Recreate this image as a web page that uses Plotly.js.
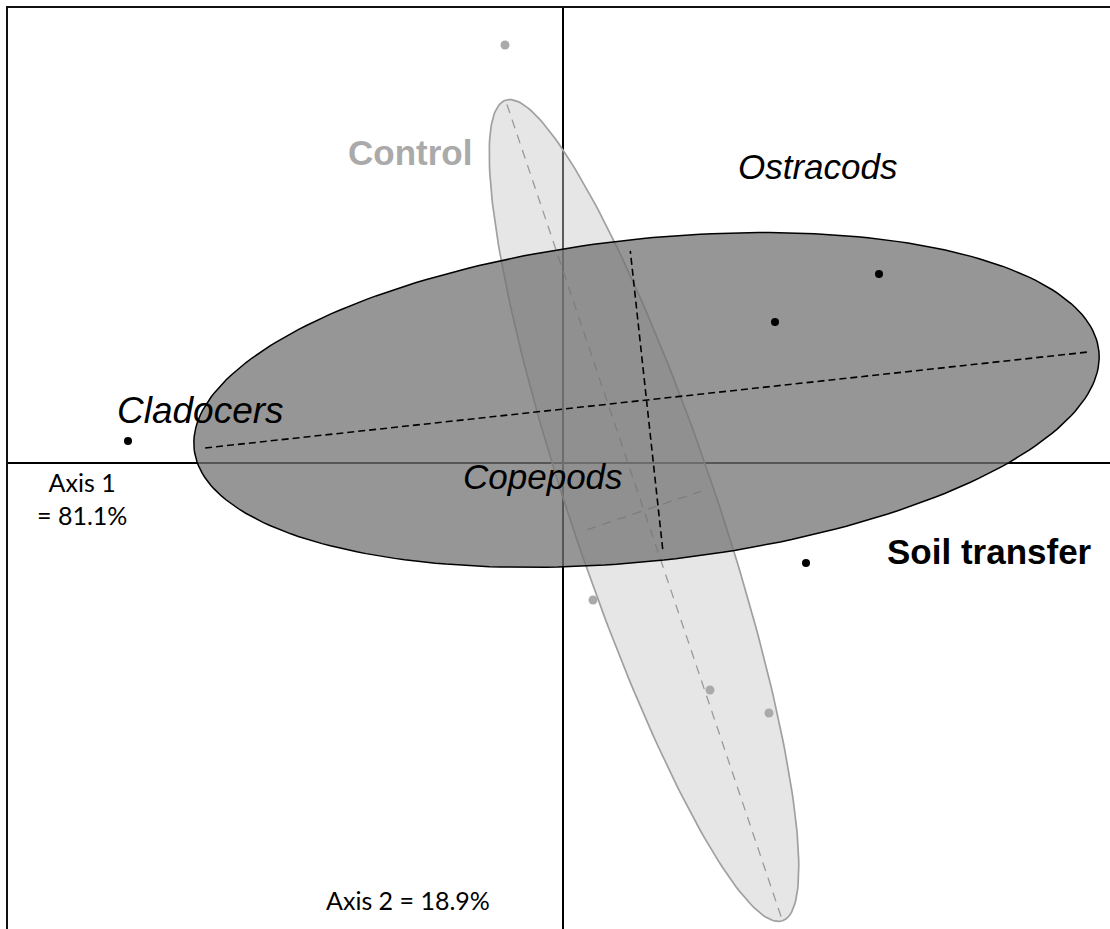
<!DOCTYPE html>
<html><head><meta charset="utf-8">
<script src="https://cdn.plot.ly/plotly-3.0.1.min.js"></script>
<style>html,body{margin:0;padding:0;background:#fff}#chart{width:1110px;height:929px}</style>
</head><body><div id="chart"></div>
<script>
// Site scores (correspondence analysis), two treatments
const controlX = [-0.58, 0.30, 1.47, 2.06];
const controlY = [4.18, -1.37, -2.27, -2.50];
const soilX = [-4.35, 2.12, 3.16, 2.43];
const soilY = [0.22, 1.41, 1.89, -1.00];

// Group ellipses: [Control, Soil transfer]
const ellipseNames = ["Control", "Soil transfer"];
const ellipseCX = [0.81, 0.835];
const ellipseCY = [-0.475, 0.63];
const ellipseA = [4.33, 4.55];
const ellipseB = [0.73, 1.61];
const ellipseAngle = [-71.35, 6.2];
const axisHalfMajor = [4.285, 4.44];
const axisHalfMinor = [0.60, 1.50];

// Labels
const speciesNames = ["Ostracods", "Cladocers", "Copepods"];
const speciesX = [2.55, -3.63, -0.20];
const speciesY = [2.97, 0.53, -0.13];
const groupLabelX = [-1.53, 4.26];
const groupLabelY = [3.11, -0.88];
const axisLabels = ["Axis 1<br>= 81.1%", "Axis 2 = 18.9%"];
const axisLabelX = [-4.81, -1.55];
const axisLabelY = [-0.35, -4.37];

function ellipsePts(i) {
  const th = ellipseAngle[i] * Math.PI / 180;
  const xs = [], ys = [];
  const n = 240;
  for (let k = 0; k <= n; k++) {
    const t = 2 * Math.PI * k / n;
    const u = ellipseA[i] * Math.cos(t), v = ellipseB[i] * Math.sin(t);
    xs.push(ellipseCX[i] + u * Math.cos(th) - v * Math.sin(th));
    ys.push(ellipseCY[i] + u * Math.sin(th) + v * Math.cos(th));
  }
  return {xs, ys};
}
function axisSegs(i) {
  const th = ellipseAngle[i] * Math.PI / 180;
  const c = Math.cos(th), s = Math.sin(th);
  const cx = ellipseCX[i], cy = ellipseCY[i];
  const M = axisHalfMajor[i], m = axisHalfMinor[i];
  return {
    xs: [cx - M * c, cx + M * c, null, cx + m * s, cx - m * s],
    ys: [cy - M * s, cy + M * s, null, cy - m * c, cy + m * c]
  };
}

const fills = ["rgba(200,200,200,0.45)", "rgba(115,115,115,0.75)"];
const outlines = ["#a0a0a0", "#000000"];
const dashCols = ["#9a9a9a", "#000000"];
const dashes = ["9px,7px", "7px,4px"];

const traces = [];
[0, 1].forEach(i => {
  const e = ellipsePts(i);
  traces.push({x: e.xs, y: e.ys, type: "scatter", mode: "lines", fill: "toself",
    fillcolor: fills[i], line: {color: outlines[i], width: i === 0 ? 1.7 : 1.5}, hoverinfo: "skip", name: ellipseNames[i]});
  const a = axisSegs(i);
  traces.push({x: a.xs, y: a.ys, type: "scatter", mode: "lines",
    line: {color: dashCols[i], width: i === 0 ? 1.3 : 1.6, dash: dashes[i]}, hoverinfo: "skip"});
});
traces.push({x: controlX, y: controlY, type: "scatter", mode: "markers",
  marker: {color: "#aaaaaa", size: 9}, name: "Control"});
traces.push({x: soilX, y: soilY, type: "scatter", mode: "markers",
  marker: {color: "#000000", size: 8}, name: "Soil transfer"});

const annotations = [];
speciesNames.forEach((s, i) => annotations.push({x: speciesX[i], y: speciesY[i], xref: "x", yref: "y",
  text: "<i>" + s + "</i>", showarrow: false, xanchor: "center", yanchor: "middle",
  font: {family: "Liberation Sans, Arial, sans-serif", size: i === 1 ? 37 : 35, color: "#000"}}));
ellipseNames.forEach((s, i) => annotations.push({x: groupLabelX[i], y: groupLabelY[i], xref: "x", yref: "y",
  text: "<b>" + s + "</b>", showarrow: false, xanchor: "center", yanchor: "middle",
  font: {family: "Liberation Sans, Arial, sans-serif", size: 35, color: i === 0 ? "#aaaaaa" : "#000"}}));
axisLabels.forEach((s, i) => annotations.push({x: axisLabelX[i], y: axisLabelY[i], xref: "x", yref: "y",
  text: s, showarrow: false, xanchor: "center", yanchor: "middle", align: "center",
  font: {family: "Lato, sans-serif", size: 25, color: "#000"}}));

const layout = {
  width: 1110, height: 929,
  margin: {l: 8, r: 0, t: 8, b: 0},
  paper_bgcolor: "#fff", plot_bgcolor: "#fff",
  showlegend: false,
  xaxis: {range: [-5.55, 5.47], side: "top", showline: true, linecolor: "#111", linewidth: 2,
    showgrid: false, zeroline: true, zerolinecolor: "#000", zerolinewidth: 1.5,
    showticklabels: false, ticks: "", fixedrange: true},
  yaxis: {range: [-4.66, 4.55], showline: true, linecolor: "#111", linewidth: 2,
    showgrid: false, zeroline: true, zerolinecolor: "#000", zerolinewidth: 1.5,
    showticklabels: false, ticks: "", fixedrange: true},
  annotations: annotations
};
Plotly.newPlot("chart", traces, layout, {displayModeBar: false, staticPlot: true});
</script>
</body></html>
